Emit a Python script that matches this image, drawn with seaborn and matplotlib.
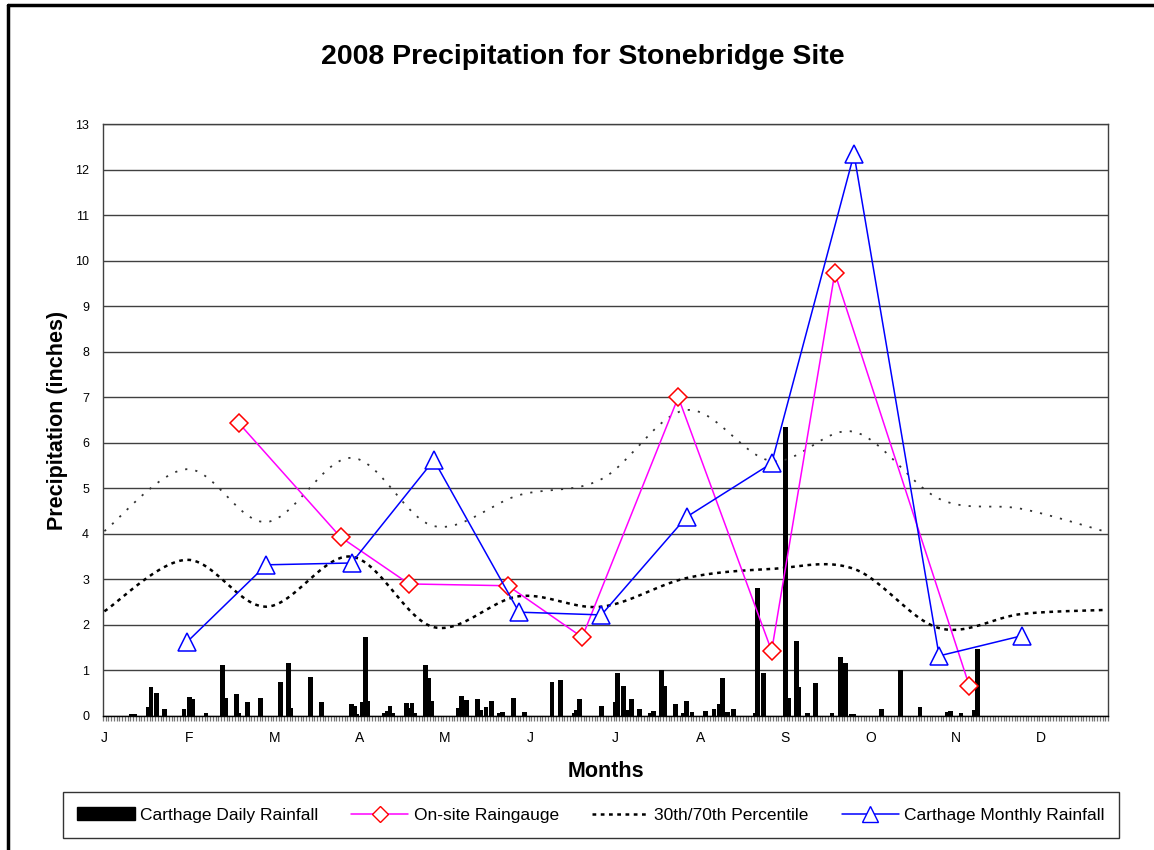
import numpy as np
import pandas as pd
import matplotlib
matplotlib.use("Agg")
import matplotlib.pyplot as plt
from matplotlib.lines import Line2D
from matplotlib.patches import Patch
import seaborn as sns

# ---------------- data ----------------
month_labels = ["J", "F", "M", "A", "M", "J", "J", "A", "S", "O", "N", "D"]
label_days = [0, 31, 62, 93, 124, 155, 186, 217, 248, 279, 310, 341]

# Carthage daily rainfall (day index of 2008 -> inches); all other days zero
rain_days = [10, 11, 16, 17, 19, 22, 29, 31, 32, 37, 43, 44, 48, 49, 52, 57, 64, 67, 68,
             75, 79, 90, 91, 92, 94, 95, 96, 102, 103, 104, 105, 110, 111, 112, 113, 117, 118, 119,
             129, 130, 132, 136, 137, 139, 141, 144, 145, 149, 153, 163, 166, 171, 172, 173,
             181, 186, 187, 189, 191, 192, 195, 199, 200, 203, 204, 208, 211, 212, 214,
             219, 222, 224, 225, 227, 229, 237, 238, 240, 248, 249, 252, 253, 256, 259, 265,
             268, 270, 272, 273, 283, 290, 297, 307, 308, 312, 317, 318]
rain_vals = [0.05, 0.05, 0.20, 0.63, 0.51, 0.15, 0.15, 0.42, 0.37, 0.06, 1.12, 0.39, 0.48, 0.06, 0.30, 0.39, 0.75, 1.17, 0.17,
             0.86, 0.30, 0.27, 0.23, 0.05, 0.30, 1.74, 0.33, 0.07, 0.10, 0.23, 0.06, 0.28, 0.17, 0.28, 0.06, 1.12, 0.84, 0.33,
             0.17, 0.45, 0.35, 0.38, 0.13, 0.20, 0.33, 0.07, 0.09, 0.39, 0.09, 0.75, 0.78, 0.06, 0.13, 0.37,
             0.23, 0.30, 0.94, 0.66, 0.13, 0.37, 0.15, 0.06, 0.12, 1.02, 0.66, 0.26, 0.06, 0.33, 0.09,
             0.12, 0.15, 0.26, 0.84, 0.09, 0.15, 0.06, 2.80, 0.94, 6.35, 0.39, 1.65, 0.63, 0.06, 0.73, 0.06,
             1.29, 1.17, 0.05, 0.05, 0.15, 1.00, 0.20, 0.09, 0.12, 0.06, 0.13, 1.47]

# On-site raingauge
onsite_days = [49, 86, 111, 147, 174, 209, 243, 266, 315]
onsite_vals = [6.43, 3.93, 2.90, 2.86, 1.73, 7.00, 1.43, 9.73, 0.66]

# Carthage monthly rainfall (plotted at month ends, Jan..Nov)
monthly_days = [30, 59, 90, 120, 151, 181, 212, 243, 273, 304, 334]
monthly_vals = [1.62, 3.32, 3.36, 5.62, 2.28, 2.22, 4.37, 5.55, 12.34, 1.32, 1.76]

# 30th / 70th percentiles
pct_days = [0, 30, 59, 90, 120, 151, 181, 212, 243, 273, 304, 334, 365]
pct70 = [4.06, 5.42, 4.26, 5.67, 4.17, 4.85, 5.20, 6.72, 5.60, 6.24, 4.77, 4.55, 4.04]
pct30 = [2.30, 3.43, 2.40, 3.50, 1.95, 2.63, 2.40, 3.03, 3.23, 3.23, 1.93, 2.24, 2.33]

# ---------------- helpers ----------------
def smooth_curve(xs, ys, n=24):
    """Catmull-Rom rendering of a line through the given points (Excel 'smoothed line')."""
    p = np.column_stack([xs, ys]).astype(float)
    p = np.vstack([p[0], p, p[-1]])
    out = []
    t = np.linspace(0, 1, n, endpoint=False)
    for i in range(1, len(p) - 2):
        p0, p1, p2, p3 = p[i - 1], p[i], p[i + 1], p[i + 2]
        tt = t[:, None]
        seg = 0.5 * ((2 * p1) + (-p0 + p2) * tt + (2 * p0 - 5 * p1 + 4 * p2 - p3) * tt ** 2
                     + (-p0 + 3 * p1 - 3 * p2 + p3) * tt ** 3)
        out.append(seg)
    out.append(p[-2][None, :])
    out = np.vstack(out)
    return out[:, 0], out[:, 1]

# ---------------- figure ----------------
sns.set_theme(style="white")
plt.rcParams["font.family"] = ["Liberation Sans", "DejaVu Sans"]
plt.rcParams.update({"text.color": "black", "axes.labelcolor": "black",
                     "xtick.color": "black", "ytick.color": "black"})

fig = plt.figure(figsize=(11.54, 8.5), dpi=100)
fig.patch.set_facecolor("white")
ax = fig.add_axes([103 / 1154, 1 - 716 / 850, (1108 - 103) / 1154, (716 - 124) / 850])

all_days = np.arange(366)
daily = np.zeros(366)
daily[rain_days] = rain_vals
df_daily = pd.DataFrame({"day": all_days, "rain": daily})

sns.barplot(data=df_daily, x="day", y="rain", native_scale=True, color="black",
            width=1.75, linewidth=0, saturation=1, ax=ax, zorder=3)

# percentile lines (smoothed)
sx, sy = smooth_curve(pct_days, pct70)
sns.lineplot(x=sx, y=sy, sort=False, ax=ax, color="#333333", linewidth=1.3,
             linestyle=(0, (1.2, 4.5)), zorder=4)
sx, sy = smooth_curve(pct_days, pct30)
sns.lineplot(x=sx, y=sy, sort=False, ax=ax, color="black", linewidth=1.8,
             linestyle=(0, (1.5, 1.8)), zorder=4)

# on-site raingauge
sns.lineplot(x=onsite_days, y=onsite_vals, ax=ax, color="#FF00FF", linewidth=1.1,
             marker="D", markersize=9, markerfacecolor="white", markeredgecolor="#FF0000",
             markeredgewidth=1.1, zorder=5)
# Carthage monthly
sns.lineplot(x=monthly_days, y=monthly_vals, ax=ax, color="#0000FF", linewidth=1.1,
             marker="^", markersize=13, markerfacecolor="white", markeredgecolor="#0000FF",
             markeredgewidth=1.1, zorder=6)

ax.set_xlim(-0.5, 365.5)
ax.set_ylim(0, 13)
ax.set_yticks(range(0, 14))
ax.set_yticklabels([str(i) for i in range(0, 14)], fontsize=9)
ax.set_xticks(label_days)
ax.set_xticklabels(month_labels, fontsize=10)
ax.set_xticks(np.arange(-0.5, 366, 1), minor=True)
ax.tick_params(axis="x", which="minor", length=3.5, width=0.9, color="#777777", direction="out", bottom=True)
ax.tick_params(axis="x", which="major", length=0, pad=11)
ax.tick_params(axis="y", which="major", length=0, pad=10)
ax.grid(axis="y", color="#404040", linewidth=1.0, zorder=0)
ax.set_axisbelow(True)
for s in ax.spines.values():
    s.set_color("#404040")
    s.set_linewidth(1.0)
ax.spines["bottom"].set_color("black")

ax.set_xlabel("Months", fontsize=15.5, fontweight="bold", labelpad=11)
ax.set_ylabel("Precipitation (inches)", fontsize=15.5, fontweight="bold", labelpad=5)

fig.text(583 / 1154, 1 - 57 / 850, "2008 Precipitation for Stonebridge Site",
         ha="center", va="center", fontsize=20.5, fontweight="bold")

# legend
handles = [
    Patch(facecolor="black", edgecolor="black"),
    Line2D([], [], color="#FF00FF", lw=1.1, marker="D", markersize=8, markerfacecolor="white",
           markeredgecolor="#FF0000"),
    Line2D([], [], color="black", lw=1.8, linestyle=(0, (1.5, 1.8))),
    Line2D([], [], color="#0000FF", lw=1.1, marker="^", markersize=11, markerfacecolor="white",
           markeredgecolor="#0000FF"),
]
labels = ["Carthage Daily Rainfall", "On-site Raingauge", "30th/70th Percentile", "Carthage Monthly Rainfall"]
leg = fig.legend(handles, labels, loc="center", bbox_to_anchor=(591 / 1154, 1 - 815 / 850),
                 ncol=4, fontsize=12.5, frameon=True, fancybox=False, edgecolor="black",
                 handlelength=3.3, handletextpad=0.3, columnspacing=1.9, borderpad=0.85,
                 handleheight=0.8)
leg.get_frame().set_linewidth(1.0)

# outer chart border
fig.add_artist(Line2D([8 / 1154, 8 / 1154], [0, 1 - 5 / 850], color="black", lw=2.5,
                      transform=fig.transFigure))
fig.add_artist(Line2D([8 / 1154, 1.0], [1 - 5 / 850, 1 - 5 / 850], color="black", lw=2.5,
                      transform=fig.transFigure))

fig.savefig("out.png", dpi=100, facecolor="white")
